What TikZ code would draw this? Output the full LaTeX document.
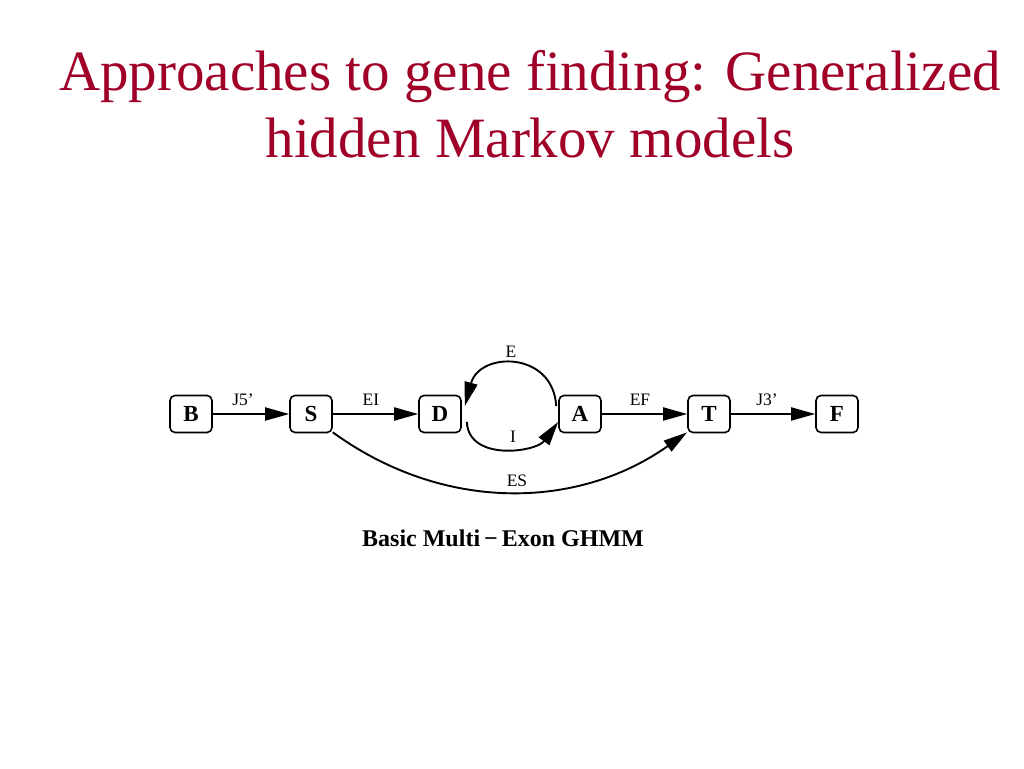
\documentclass[tikz,border=0pt]{standalone}
\usepackage{fontspec}
\setmainfont{Liberation Serif}
\usetikzlibrary{arrows.meta}
\definecolor{titlered}{RGB}{160,0,40}
\begin{document}
\begin{tikzpicture}[x=1pt,y=-1pt,
  state/.style={draw, line width=1.6pt, rounded corners=5pt, minimum width=42pt, minimum height=37pt, inner sep=0pt, font=\fontsize{23}{25}\selectfont\bfseries},
  lbl/.style={font=\fontsize{17.5}{19}\selectfont, inner sep=0pt},
  edge/.style={line width=1.9pt, -{Triangle[length=24pt,width=13pt]}},
  titletext/.style={text=titlered, font=\fontsize{57}{64}\selectfont, align=center, inner sep=0pt}]
\useasboundingbox[fill=white] (0,0) rectangle (1024,768);
\node[titletext, anchor=base] (t1) at (530,90) {Approaches to gene finding: Generalized};
\node[titletext, anchor=base] (t2) at (530,157) {hidden Markov models};
\node[state] (B) at (191,414) {B};
\node[state] (S) at (311,414) {S};
\node[state] (D) at (440,414) {D};
\node[state] (A) at (580,414) {A};
\node[state] (T) at (709,414) {T};
\node[state] (F) at (837,414) {F};
\draw[edge] (B) -- (S);
\draw[edge] (S) -- (D);
\draw[edge] (A) -- (T);
\draw[edge] (T) -- (F);
\draw[edge] ([xshift=-2pt]A.160) .. controls +(-3,-55) and +(15,-55) .. ([xshift=3pt]D.20);
\draw[edge] ([xshift=5pt]D.-20) .. controls +(2,40) and +(-22,30) .. (A.-160);
\draw[edge] (S.-40) .. controls +(110,80) and +(-110,78) .. (T.-140);
\node[lbl] (lJ5) at (243,400) {J5’};
\node[lbl] (lEI) at (371,400) {EI};
\node[lbl] (lE) at (511,352) {E};
\node[lbl] (lI) at (513,437) {I};
\node[lbl] (lEF) at (640,400) {EF};
\node[lbl] (lJ3) at (767,400) {J3’};
\node[lbl] (lES) at (517,481) {ES};
\node[font=\fontsize{24}{26}\selectfont\bfseries, inner sep=0pt] (cap) at (503,538) {Basic Multi\,−\,Exon GHMM};
\end{tikzpicture}
\end{document}
